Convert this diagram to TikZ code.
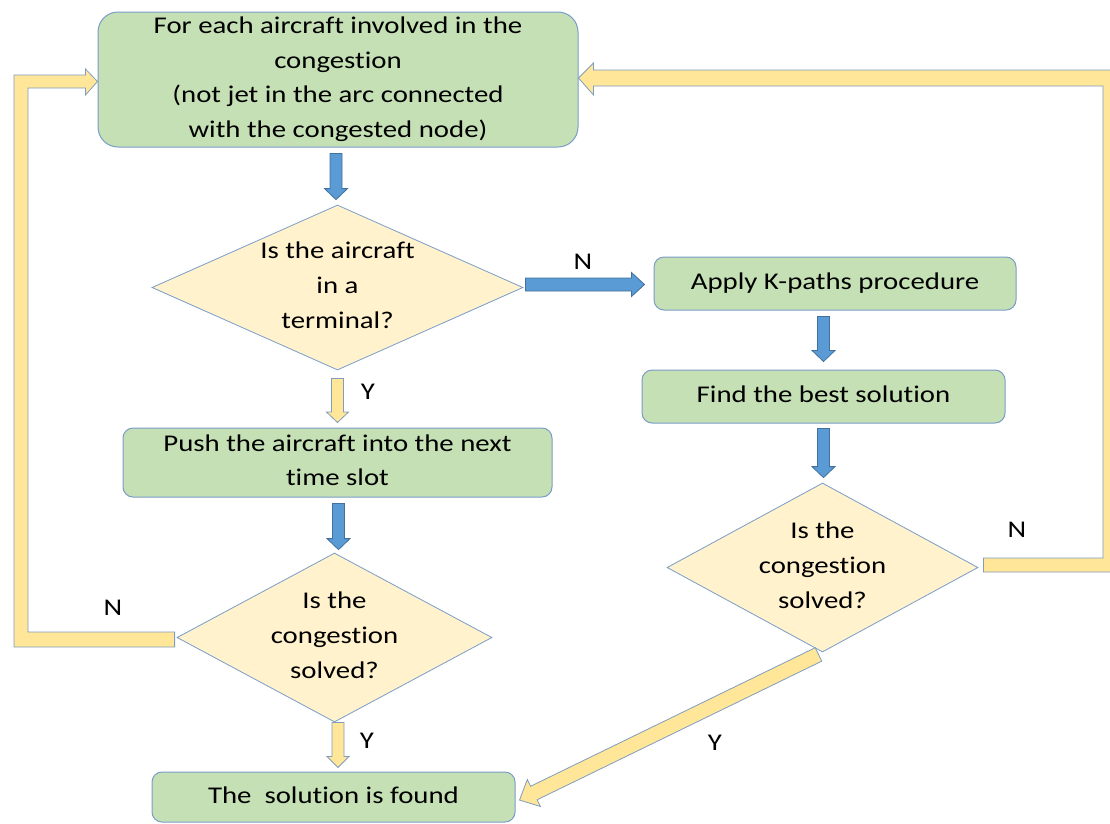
\documentclass[tikz,border=0pt]{standalone}
\usepackage{fontspec}
\setmainfont{Carlito}[FakeStretch=1.2, Ligatures=NoCommon]
\usetikzlibrary{shapes.geometric,calc}

\definecolor{boxgreen}{HTML}{C5E0B4}
\definecolor{edgeblue}{HTML}{7A9CC8}
\definecolor{diafill}{HTML}{FFF2CC}
\definecolor{arrowyellow}{HTML}{FFE699}
\definecolor{arrowblue}{HTML}{5B9BD5}
\definecolor{arrowblueedge}{HTML}{41719C}
\definecolor{yedge}{HTML}{7F9DBF}

% line strut: 18pt above and 6pt below the baseline
\newcommand{\lstrut}{\rule[-6pt]{0pt}{24pt}}

\tikzset{
  txt/.style={font=\fontsize{24}{34.7}\selectfont, text=black},
  procbox/.style={txt, rectangle, rounded corners=10pt, draw=edgeblue, line width=1pt,
    fill=boxgreen, inner sep=0pt, align=center},
  decision/.style={txt, diamond, draw=edgeblue, line width=0.8pt, fill=diafill,
    inner sep=0pt, align=center},
  lbl/.style={txt},
  % block arrow from start to target: #1 half shaft width, #2 half head width, #3 head length
  blk/.style n args={3}{to path={
    let \p1=(\tikztostart), \p2=(\tikztotarget), \p3=($(\p2)!#3!(\p1)$) in
    ($(\p1)!#1!90:(\p2)$) -- ($(\p3)!#1!-90:(\p1)$) -- ($(\p3)!#2!-90:(\p1)$) -- (\p2)
    -- ($(\p3)!#2!90:(\p1)$) -- ($(\p3)!#1!90:(\p1)$) -- ($(\p1)!#1!-90:(\p2)$) -- cycle}},
  bluearrow/.style={fill=arrowblue, draw=arrowblueedge, line width=0.8pt},
  yellowarrow/.style={fill=arrowyellow, draw=yedge, line width=0.8pt},
}

\begin{document}
\begin{tikzpicture}[x=1pt, y=-1pt]
\useasboundingbox (0,0) rectangle (1110,823);
\clip (0,0) rectangle (1110,823);

% process boxes
\node[procbox, rounded corners=20pt, minimum width=480pt, minimum height=135pt] (top) at (338,79.5)
  {\lstrut For each aircraft involved in the\\congestion\\(not jet in the arc connected\\with the congested node)\lstrut};
\node[procbox, minimum width=362pt, minimum height=53pt] (kp) at (835,283.5) {\lstrut Apply K-paths procedure};
\node[procbox, minimum width=363pt, minimum height=53pt] (best) at (823.5,396.5) {\lstrut Find the best solution};
\node[procbox, minimum width=429pt, minimum height=69pt] (push) at (337.5,462.5)
  {\lstrut Push the aircraft into the next\\time slot\lstrut};
\node[procbox, minimum width=363pt, minimum height=50pt] (sol) at (333.5,797) {\lstrut The~ solution is found};

% decisions
\node[decision, shape aspect=2.25, minimum width=371pt, minimum height=165pt] (d1) at (337.5,287.5)
  {\lstrut Is the aircraft\\in a\\terminal?\lstrut};
\node[decision, shape aspect=1.86, minimum width=315pt, minimum height=169pt] (d2) at (334.5,637.5)
  {\lstrut Is the\\congestion\\solved?\lstrut};
\node[decision, shape aspect=1.84, minimum width=311pt, minimum height=169pt] (d3) at (822.5,567.5)
  {\lstrut Is the\\congestion\\solved?\lstrut};

% straight block arrows
\draw[bluearrow] ($(top.south)+(-2,6)$) to[blk={6pt}{11.5pt}{11pt}] ($(d1.north)+(-1.5,-5)$);
\draw[bluearrow] ($(d1.east)+(2,-3)$) to[blk={6.5pt}{12pt}{13pt}] ($(kp.west)+(-9,1)$);
\draw[bluearrow] ($(kp.south -| best.north)+(0,6)$) to[blk={6pt}{11.5pt}{11pt}] ($(best.north)+(0,-8)$);
\draw[bluearrow] ($(best.south)+(0,5)$) to[blk={6pt}{11.5pt}{11pt}] ($(best.south |- d3.north)+(0,-5)$);
\draw[yellowarrow] ($(d1.south)+(0,8)$) to[blk={6pt}{11pt}{10.5pt}] ($(push.north)+(0,-5)$);
\draw[bluearrow] ($(push.south)+(1,6)$) to[blk={6pt}{11.5pt}{11pt}] ($(push.south |- d2.north)+(1,-3)$);
\draw[yellowarrow] ($(d2.south)+(3.5,0)$) to[blk={6pt}{11pt}{11pt}] ($(d2.south |- sol.north)+(3.5,-4)$);
\draw[yellowarrow] ($(d3.south)+(-4,2)$) to[blk={7.5pt}{15pt}{16pt}] ($(sol.east)+(4,3)$);

% loop back from the left decision
\draw[yellowarrow] let \p1=(d2.west), \p2=(top.west) in
  (\x1-2pt,\y1+5.5pt) -- (28pt,\y1+5.5pt) -- (28pt,\y2-8.5pt) -- (\x2-12pt,\y2-8.5pt)
  -- (\x2-12pt,\y2-15.5pt) -- (\x2,\y2-2pt) -- (\x2-12pt,\y2+10.5pt) -- (\x2-12pt,\y2+4.5pt)
  -- (14pt,\y2+4.5pt) -- (14pt,\y1-9.5pt) -- (\x1-2pt,\y1-9.5pt) -- cycle;

% loop back from the right decision
\draw[yellowarrow] let \p1=(d3.east), \p2=(top.east) in
  (\x1+5pt,\y1+9.5pt) -- (1103pt,\y1+9.5pt) -- (1103pt,\y2-6.5pt) -- (\x2+15pt,\y2-6.5pt)
  -- (\x2+15pt,\y2-15.5pt) -- (\x2,\y2+1.5pt) -- (\x2+15pt,\y2+16.5pt) -- (\x2+15pt,\y2+9.5pt)
  -- (1117pt,\y2+9.5pt) -- (1117pt,\y1-4.5pt) -- (\x1+5pt,\y1-4.5pt) -- cycle;

% branch labels
\node[lbl] (labN1) at (583,262) {N};
\node[lbl] (labY1) at (368,392) {Y};
\node[lbl] (labN2) at (113,608) {N};
\node[lbl] (labY2) at (367,741) {Y};
\node[lbl] (labY3) at (715,743) {Y};
\node[lbl] (labN3) at (1017,530) {N};
\end{tikzpicture}
\end{document}
